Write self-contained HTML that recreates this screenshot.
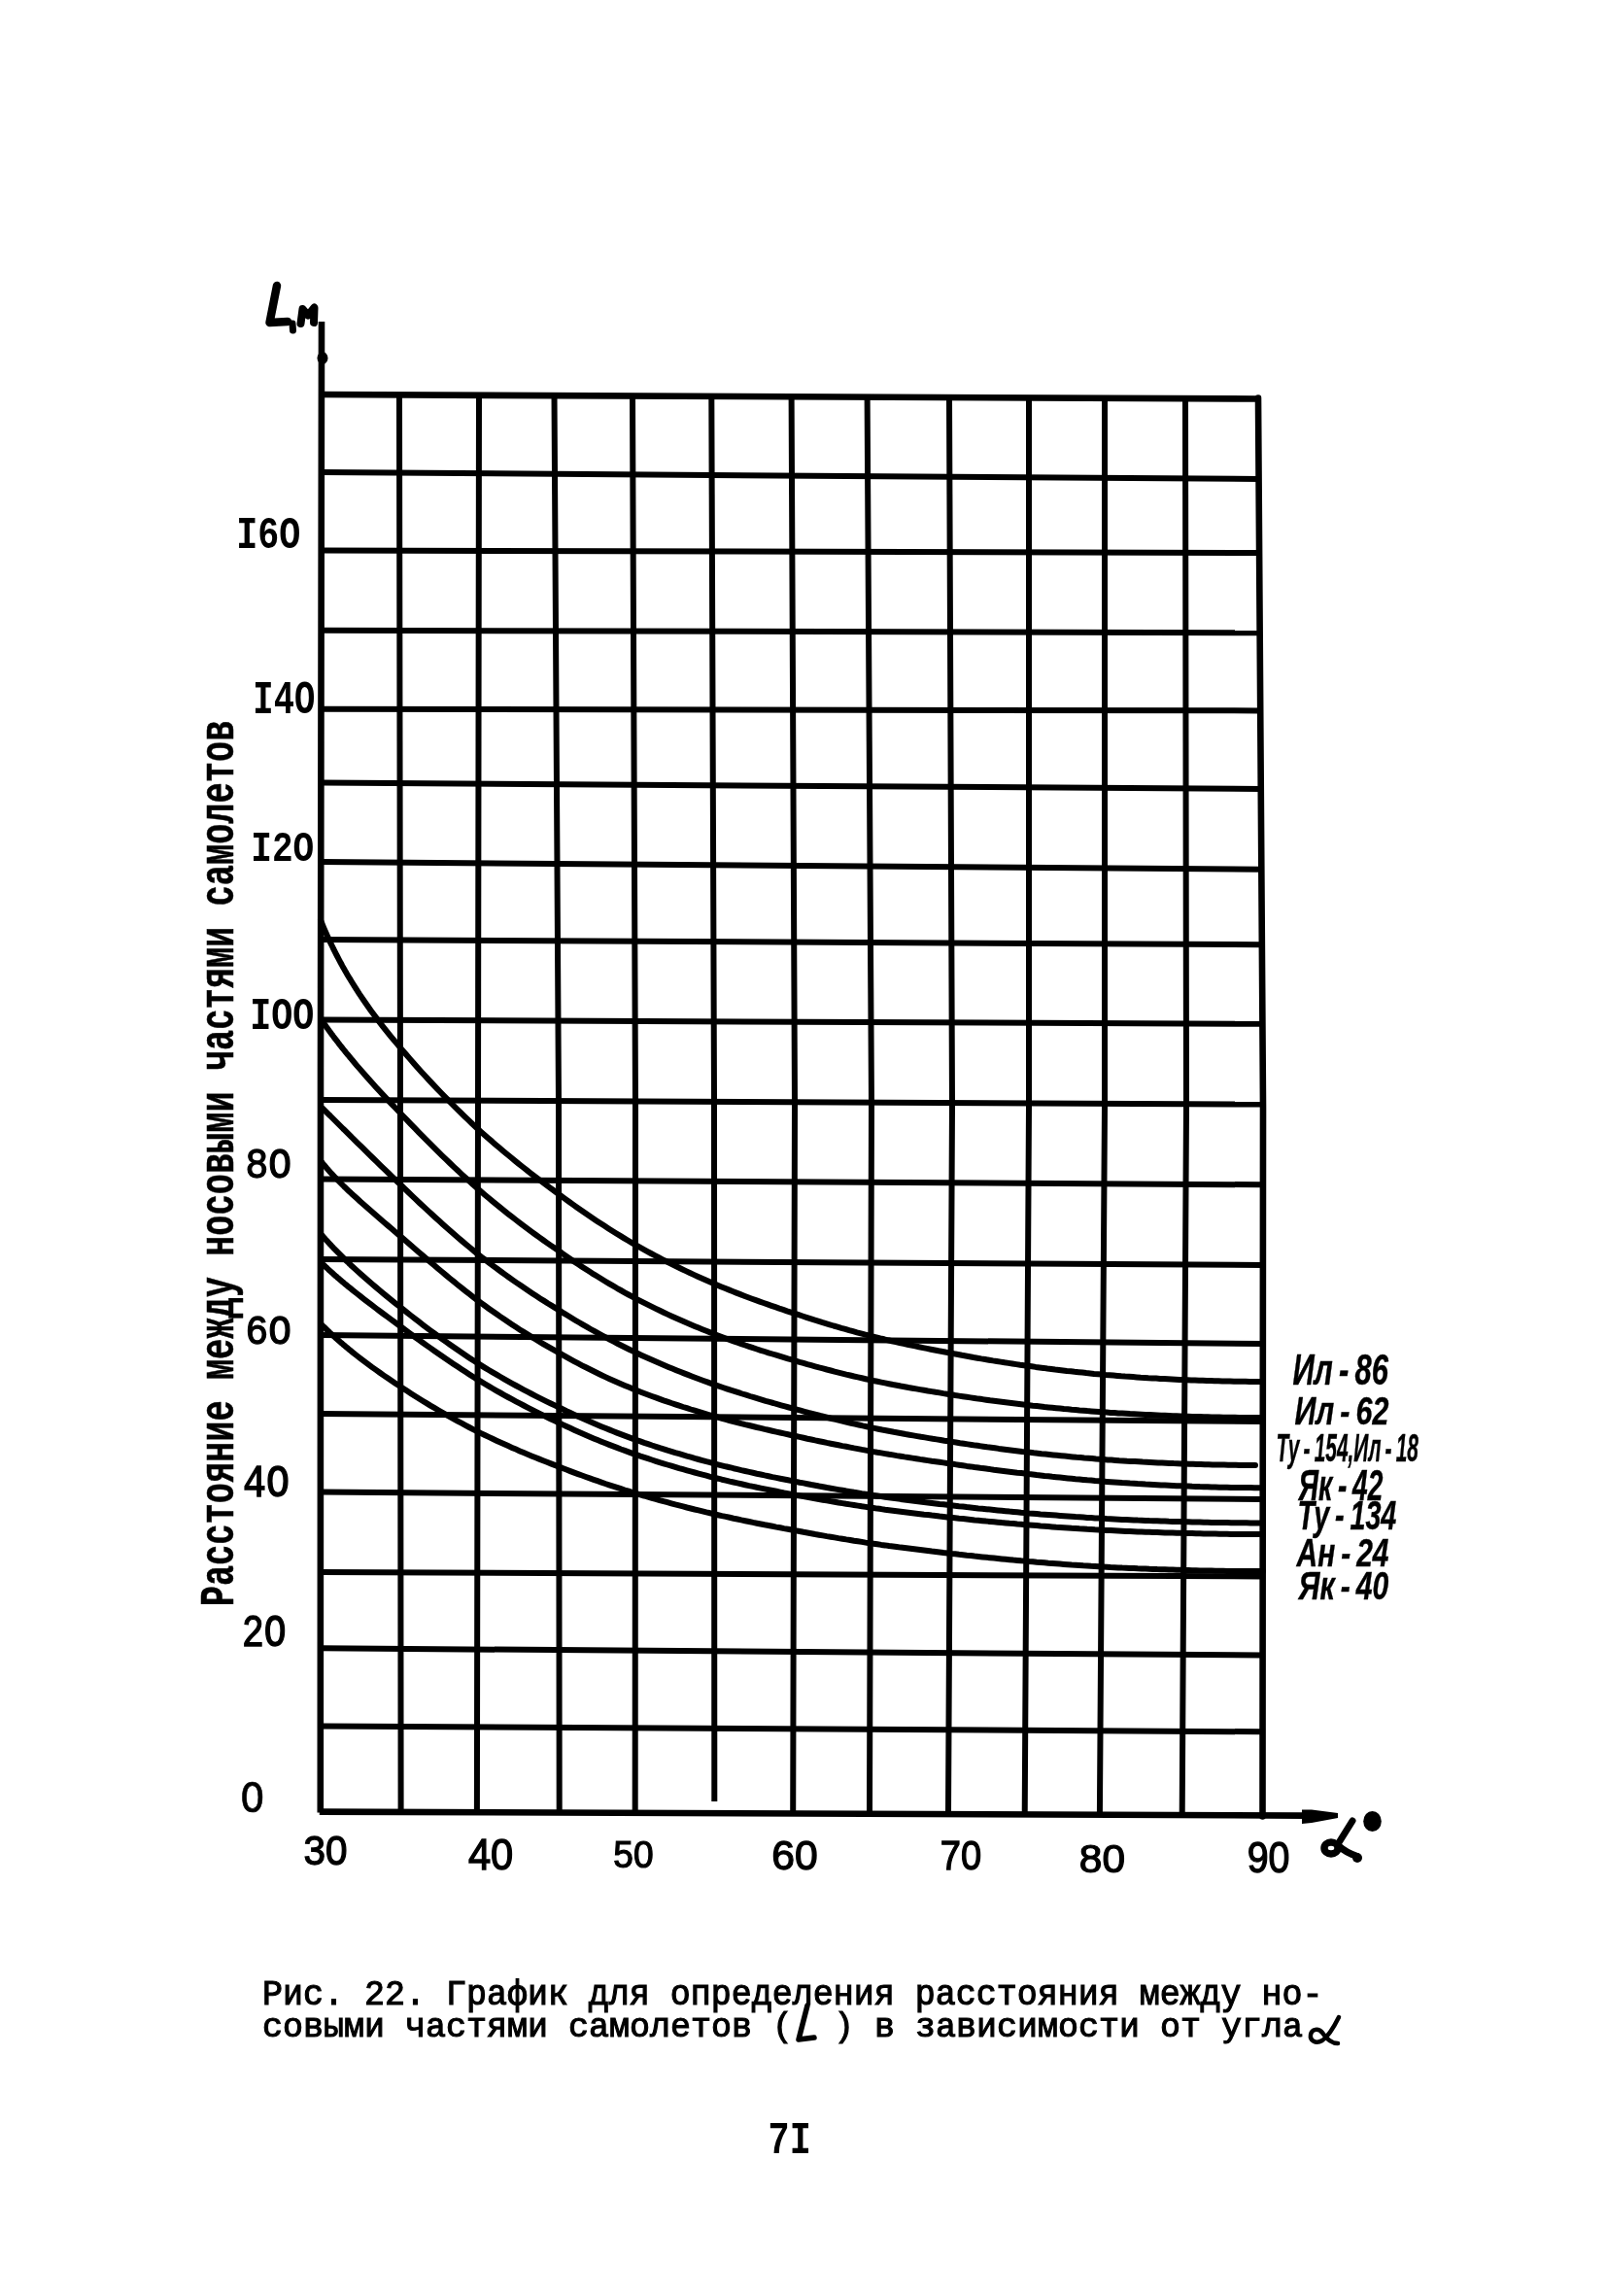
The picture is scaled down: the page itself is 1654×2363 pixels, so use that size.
<!DOCTYPE html>
<html><head><meta charset="utf-8"><title>Рис. 22</title>
<style>
html,body{margin:0;padding:0;background:#fff;}
body{width:1654px;height:2363px;overflow:hidden;font-family:"Liberation Mono",monospace;}
svg{display:block;filter:grayscale(1);}
</style></head>
<body>
<svg width="1654" height="2363" viewBox="0 0 1654 2363">
<rect width="1654" height="2363" fill="#fff"/>
<g fill="none" stroke="#000" stroke-linecap="round" stroke-linejoin="round">
<line x1="330.0" y1="406.0" x2="1296.0" y2="410.5" stroke-width="6.6" stroke-linecap="butt"/>
<line x1="330.9" y1="486.0" x2="1295.6" y2="493.0" stroke-width="6.0" stroke-linecap="butt"/>
<line x1="330.8" y1="566.4" x2="1296.1" y2="569.0" stroke-width="6.0" stroke-linecap="butt"/>
<line x1="330.7" y1="648.7" x2="1296.7" y2="651.3" stroke-width="6.0" stroke-linecap="butt"/>
<line x1="330.6" y1="729.8" x2="1297.2" y2="731.4" stroke-width="6.0" stroke-linecap="butt"/>
<line x1="330.5" y1="805.5" x2="1297.8" y2="812.0" stroke-width="6.0" stroke-linecap="butt"/>
<line x1="330.3" y1="887.0" x2="1298.4" y2="894.7" stroke-width="6.0" stroke-linecap="butt"/>
<line x1="330.2" y1="967.0" x2="1298.9" y2="972.2" stroke-width="6.0" stroke-linecap="butt"/>
<line x1="330.1" y1="1049.5" x2="1299.4" y2="1053.8" stroke-width="6.0" stroke-linecap="butt"/>
<line x1="330.0" y1="1132.0" x2="1300.0" y2="1136.6" stroke-width="6.0" stroke-linecap="butt"/>
<line x1="330.0" y1="1213.5" x2="1299.9" y2="1219.3" stroke-width="6.0" stroke-linecap="butt"/>
<line x1="330.0" y1="1296.0" x2="1299.9" y2="1302.0" stroke-width="6.0" stroke-linecap="butt"/>
<line x1="329.9" y1="1374.0" x2="1299.8" y2="1383.0" stroke-width="6.0" stroke-linecap="butt"/>
<line x1="329.9" y1="1455.0" x2="1299.8" y2="1463.0" stroke-width="6.0" stroke-linecap="butt"/>
<line x1="329.9" y1="1535.5" x2="1299.7" y2="1543.0" stroke-width="6.0" stroke-linecap="butt"/>
<line x1="329.9" y1="1618.0" x2="1299.7" y2="1622.5" stroke-width="6.0" stroke-linecap="butt"/>
<line x1="329.8" y1="1696.3" x2="1299.6" y2="1703.5" stroke-width="6.0" stroke-linecap="butt"/>
<line x1="329.8" y1="1776.4" x2="1299.6" y2="1782.3" stroke-width="6.0" stroke-linecap="butt"/>
<line x1="328.8" y1="1864.6" x2="1345.0" y2="1868.6" stroke-width="6.6" stroke-linecap="butt"/>
<polyline points="331.0,331.0 330.0,1098.3 329.8,1865.6" stroke-width="6.6" stroke-linecap="butt"/>
<polyline points="411.0,405.4 412.0,1135.6 412.6,1865.9" stroke-width="6.0" stroke-linecap="butt"/>
<polyline points="493.0,405.8 492.0,1136.0 490.9,1866.2" stroke-width="6.0" stroke-linecap="butt"/>
<polyline points="570.5,406.1 575.0,1136.3 575.7,1866.6" stroke-width="6.0" stroke-linecap="butt"/>
<polyline points="651.0,406.5 654.0,1136.7 653.7,1866.9" stroke-width="6.0" stroke-linecap="butt"/>
<polyline points="732.3,406.9 735.0,1130.4 735.3,1854.0" stroke-width="6.0" stroke-linecap="butt"/>
<polyline points="814.6,407.2 818.0,1137.4 816.2,1867.5" stroke-width="6.0" stroke-linecap="butt"/>
<polyline points="892.6,407.6 897.0,1137.7 895.0,1867.8" stroke-width="6.0" stroke-linecap="butt"/>
<polyline points="977.0,408.0 980.0,1138.1 976.0,1868.1" stroke-width="6.0" stroke-linecap="butt"/>
<polyline points="1059.0,408.4 1059.0,1138.4 1054.7,1868.4" stroke-width="6.0" stroke-linecap="butt"/>
<polyline points="1137.0,408.7 1137.0,1138.7 1131.9,1868.7" stroke-width="6.0" stroke-linecap="butt"/>
<polyline points="1220.0,409.1 1221.0,1139.1 1216.7,1869.1" stroke-width="6.0" stroke-linecap="butt"/>
<polyline points="1295.0,409.5 1300.0,1139.4 1299.5,1869.4" stroke-width="6.6" stroke-linecap="round"/>
<path d="M330.0 947.1 L331.0 949.5 L332.0 951.9 L333.0 954.3 L334.0 956.6 L335.0 958.9 L336.0 961.2 L337.0 963.4 L338.0 965.6 L339.0 967.7 L340.0 969.9 L341.0 972.0 L342.0 974.0 L343.0 976.1 L344.0 978.1 L345.0 980.1 L346.0 982.1 L347.0 984.0 L348.0 985.9 L349.0 987.8 L350.0 989.7 L351.0 991.5 L352.0 993.4 L353.0 995.2 L354.0 996.9 L355.0 998.7 L356.0 1000.4 L357.0 1002.2 L358.0 1003.9 L359.0 1005.6 L360.0 1007.2 L362.0 1010.5 L366.0 1016.9 L370.0 1023.1 L374.0 1029.0 L378.0 1034.8 L382.0 1040.4 L386.0 1045.8 L390.0 1051.1 L394.0 1056.3 L398.0 1061.3 L402.0 1066.3 L406.0 1071.1 L410.0 1075.9 L414.0 1080.6 L418.0 1085.3 L422.0 1089.9 L426.0 1094.5 L430.0 1099.0 L434.0 1103.4 L438.0 1107.8 L442.0 1112.1 L446.0 1116.4 L450.0 1120.6 L454.0 1124.8 L458.0 1128.9 L462.0 1132.9 L466.0 1137.0 L470.0 1141.0 L474.0 1144.9 L478.0 1148.8 L482.0 1152.6 L486.0 1156.5 L490.0 1160.2 L494.0 1163.9 L498.0 1167.4 L502.0 1171.0 L506.0 1174.4 L510.0 1177.9 L514.0 1181.3 L518.0 1184.7 L522.0 1188.0 L526.0 1191.3 L530.0 1194.6 L534.0 1197.8 L538.0 1201.0 L542.0 1204.2 L546.0 1207.3 L550.0 1210.4 L554.0 1213.4 L558.0 1216.4 L562.0 1219.4 L566.0 1222.4 L570.0 1225.3 L574.0 1228.2 L578.0 1231.1 L582.0 1234.1 L586.0 1237.0 L590.0 1239.9 L594.0 1242.7 L598.0 1245.5 L602.0 1248.3 L606.0 1251.0 L610.0 1253.7 L614.0 1256.4 L618.0 1259.0 L622.0 1261.6 L626.0 1264.2 L630.0 1266.7 L634.0 1269.2 L638.0 1271.6 L642.0 1274.1 L646.0 1276.5 L650.0 1278.8 L654.0 1281.2 L658.0 1283.4 L662.0 1285.6 L666.0 1287.8 L670.0 1290.0 L674.0 1292.1 L678.0 1294.2 L682.0 1296.3 L686.0 1298.3 L690.0 1300.3 L694.0 1302.3 L698.0 1304.3 L702.0 1306.2 L706.0 1308.1 L710.0 1310.0 L714.0 1311.9 L718.0 1313.7 L722.0 1315.5 L726.0 1317.3 L730.0 1319.1 L734.0 1320.8 L738.0 1322.5 L742.0 1324.2 L746.0 1325.8 L750.0 1327.4 L754.0 1329.0 L758.0 1330.6 L762.0 1332.1 L766.0 1333.7 L770.0 1335.2 L774.0 1336.7 L778.0 1338.1 L782.0 1339.6 L786.0 1341.0 L790.0 1342.4 L794.0 1343.8 L798.0 1345.2 L802.0 1346.6 L806.0 1347.9 L810.0 1349.3 L814.0 1350.6 L818.0 1351.9 L822.0 1353.2 L826.0 1354.5 L830.0 1355.8 L834.0 1357.1 L838.0 1358.4 L842.0 1359.6 L846.0 1360.9 L850.0 1362.1 L854.0 1363.3 L858.0 1364.5 L862.0 1365.6 L866.0 1366.8 L870.0 1367.9 L874.0 1369.1 L878.0 1370.2 L882.0 1371.3 L886.0 1372.3 L890.0 1373.4 L894.0 1374.4 L898.0 1375.5 L902.0 1376.4 L906.0 1377.4 L910.0 1378.3 L914.0 1379.3 L918.0 1380.2 L922.0 1381.1 L926.0 1382.0 L930.0 1382.9 L934.0 1383.7 L938.0 1384.6 L942.0 1385.4 L946.0 1386.3 L950.0 1387.1 L954.0 1387.9 L958.0 1388.7 L962.0 1389.5 L966.0 1390.3 L970.0 1391.0 L974.0 1391.8 L978.0 1392.5 L982.0 1393.3 L986.0 1394.0 L990.0 1394.8 L994.0 1395.5 L998.0 1396.2 L1002.0 1397.0 L1006.0 1397.7 L1010.0 1398.4 L1014.0 1399.0 L1018.0 1399.7 L1022.0 1400.4 L1026.0 1401.0 L1030.0 1401.6 L1034.0 1402.3 L1038.0 1402.9 L1042.0 1403.5 L1046.0 1404.1 L1050.0 1404.7 L1054.0 1405.2 L1058.0 1405.8 L1062.0 1406.3 L1066.0 1406.9 L1070.0 1407.4 L1074.0 1407.9 L1078.0 1408.5 L1082.0 1409.0 L1086.0 1409.5 L1090.0 1409.9 L1094.0 1410.4 L1098.0 1410.9 L1102.0 1411.3 L1106.0 1411.8 L1110.0 1412.2 L1114.0 1412.6 L1118.0 1413.1 L1122.0 1413.5 L1126.0 1413.9 L1130.0 1414.2 L1134.0 1414.6 L1138.0 1415.0 L1142.0 1415.3 L1146.0 1415.6 L1150.0 1415.9 L1154.0 1416.3 L1158.0 1416.6 L1162.0 1416.8 L1166.0 1417.1 L1170.0 1417.4 L1174.0 1417.7 L1178.0 1417.9 L1182.0 1418.2 L1186.0 1418.4 L1190.0 1418.6 L1194.0 1418.9 L1198.0 1419.1 L1202.0 1419.3 L1206.0 1419.5 L1210.0 1419.7 L1214.0 1419.9 L1218.0 1420.0 L1222.0 1420.2 L1226.0 1420.4 L1230.0 1420.5 L1234.0 1420.7 L1238.0 1420.8 L1242.0 1421.0 L1246.0 1421.1 L1250.0 1421.2 L1254.0 1421.3 L1258.0 1421.4 L1262.0 1421.5 L1266.0 1421.6 L1270.0 1421.7 L1274.0 1421.7 L1278.0 1421.8 L1282.0 1421.8 L1286.0 1421.9 L1290.0 1421.9 L1294.0 1421.9 L1298.0 1421.9 L1300.0 1421.9" stroke-width="6.0"/>
<path d="M331.0 1049.7 L332.0 1051.2 L333.0 1052.7 L334.0 1054.1 L335.0 1055.5 L336.0 1056.9 L337.0 1058.3 L338.0 1059.7 L339.0 1061.1 L340.0 1062.4 L341.0 1063.8 L342.0 1065.1 L343.0 1066.5 L344.0 1067.8 L345.0 1069.1 L346.0 1070.4 L347.0 1071.7 L348.0 1073.0 L349.0 1074.3 L350.0 1075.6 L351.0 1076.8 L352.0 1078.1 L353.0 1079.4 L354.0 1080.6 L355.0 1081.8 L356.0 1083.1 L357.0 1084.3 L358.0 1085.5 L359.0 1086.7 L360.0 1088.0 L361.0 1089.2 L363.0 1091.5 L367.0 1096.3 L371.0 1100.9 L375.0 1105.5 L379.0 1110.0 L383.0 1114.5 L387.0 1118.9 L391.0 1123.3 L395.0 1127.6 L399.0 1131.9 L403.0 1136.1 L407.0 1140.3 L411.0 1144.5 L415.0 1148.7 L419.0 1152.9 L423.0 1157.1 L427.0 1161.2 L431.0 1165.3 L435.0 1169.4 L439.0 1173.4 L443.0 1177.4 L447.0 1181.4 L451.0 1185.4 L455.0 1189.3 L459.0 1193.1 L463.0 1197.0 L467.0 1200.8 L471.0 1204.5 L475.0 1208.3 L479.0 1212.0 L483.0 1215.6 L487.0 1219.3 L491.0 1222.8 L495.0 1226.3 L499.0 1229.7 L503.0 1233.0 L507.0 1236.4 L511.0 1239.6 L515.0 1242.9 L519.0 1246.1 L523.0 1249.3 L527.0 1252.4 L531.0 1255.5 L535.0 1258.6 L539.0 1261.6 L543.0 1264.6 L547.0 1267.6 L551.0 1270.5 L555.0 1273.4 L559.0 1276.3 L563.0 1279.1 L567.0 1281.9 L571.0 1284.6 L575.0 1287.3 L579.0 1290.2 L583.0 1292.9 L587.0 1295.7 L591.0 1298.4 L595.0 1301.0 L599.0 1303.7 L603.0 1306.3 L607.0 1308.8 L611.0 1311.4 L615.0 1313.8 L619.0 1316.3 L623.0 1318.7 L627.0 1321.1 L631.0 1323.4 L635.0 1325.8 L639.0 1328.0 L643.0 1330.3 L647.0 1332.5 L651.0 1334.7 L655.0 1336.8 L659.0 1338.9 L663.0 1340.9 L667.0 1342.9 L671.0 1344.9 L675.0 1346.9 L679.0 1348.8 L683.0 1350.7 L687.0 1352.6 L691.0 1354.4 L695.0 1356.2 L699.0 1358.0 L703.0 1359.8 L707.0 1361.5 L711.0 1363.2 L715.0 1364.9 L719.0 1366.6 L723.0 1368.2 L727.0 1369.8 L731.0 1371.4 L735.0 1373.0 L739.0 1374.5 L743.0 1376.0 L747.0 1377.5 L751.0 1378.9 L755.0 1380.3 L759.0 1381.7 L763.0 1383.1 L767.0 1384.5 L771.0 1385.8 L775.0 1387.2 L779.0 1388.5 L783.0 1389.8 L787.0 1391.0 L791.0 1392.3 L795.0 1393.5 L799.0 1394.7 L803.0 1395.9 L807.0 1397.1 L811.0 1398.3 L815.0 1399.4 L819.0 1400.6 L823.0 1401.8 L827.0 1402.9 L831.0 1404.1 L835.0 1405.2 L839.0 1406.3 L843.0 1407.4 L847.0 1408.4 L851.0 1409.5 L855.0 1410.5 L859.0 1411.6 L863.0 1412.6 L867.0 1413.6 L871.0 1414.6 L875.0 1415.5 L879.0 1416.5 L883.0 1417.4 L887.0 1418.3 L891.0 1419.2 L895.0 1420.1 L899.0 1421.0 L903.0 1421.8 L907.0 1422.6 L911.0 1423.4 L915.0 1424.2 L919.0 1425.0 L923.0 1425.7 L927.0 1426.5 L931.0 1427.2 L935.0 1428.0 L939.0 1428.7 L943.0 1429.4 L947.0 1430.1 L951.0 1430.8 L955.0 1431.5 L959.0 1432.1 L963.0 1432.8 L967.0 1433.4 L971.0 1434.1 L975.0 1434.7 L979.0 1435.3 L983.0 1436.0 L987.0 1436.6 L991.0 1437.2 L995.0 1437.8 L999.0 1438.4 L1003.0 1439.0 L1007.0 1439.6 L1011.0 1440.1 L1015.0 1440.7 L1019.0 1441.3 L1023.0 1441.8 L1027.0 1442.3 L1031.0 1442.8 L1035.0 1443.3 L1039.0 1443.8 L1043.0 1444.3 L1047.0 1444.8 L1051.0 1445.3 L1055.0 1445.8 L1059.0 1446.2 L1063.0 1446.7 L1067.0 1447.1 L1071.0 1447.5 L1075.0 1448.0 L1079.0 1448.4 L1083.0 1448.8 L1087.0 1449.2 L1091.0 1449.6 L1095.0 1450.0 L1099.0 1450.3 L1103.0 1450.7 L1107.0 1451.0 L1111.0 1451.4 L1115.0 1451.7 L1119.0 1452.1 L1123.0 1452.4 L1127.0 1452.7 L1131.0 1453.0 L1135.0 1453.3 L1139.0 1453.6 L1143.0 1453.9 L1147.0 1454.1 L1151.0 1454.4 L1155.0 1454.6 L1159.0 1454.8 L1163.0 1455.1 L1167.0 1455.3 L1171.0 1455.5 L1175.0 1455.7 L1179.0 1455.9 L1183.0 1456.1 L1187.0 1456.3 L1191.0 1456.5 L1195.0 1456.7 L1199.0 1456.8 L1203.0 1457.0 L1207.0 1457.2 L1211.0 1457.3 L1215.0 1457.4 L1219.0 1457.6 L1223.0 1457.7 L1227.0 1457.9 L1231.0 1458.0 L1235.0 1458.1 L1239.0 1458.2 L1243.0 1458.3 L1247.0 1458.4 L1251.0 1458.5 L1255.0 1458.6 L1259.0 1458.7 L1263.0 1458.7 L1267.0 1458.8 L1271.0 1458.8 L1275.0 1458.9 L1279.0 1458.9 L1283.0 1459.0 L1287.0 1459.0 L1291.0 1459.0 L1295.0 1459.0 L1299.0 1459.0 L1300.0 1459.0" stroke-width="6.0"/>
<path d="M332.0 1140.6 L333.0 1141.6 L334.0 1142.6 L335.0 1143.6 L336.0 1144.6 L337.0 1145.6 L338.0 1146.6 L339.0 1147.6 L340.0 1148.5 L341.0 1149.5 L342.0 1150.5 L343.0 1151.5 L344.0 1152.5 L345.0 1153.5 L346.0 1154.5 L347.0 1155.5 L348.0 1156.5 L349.0 1157.5 L350.0 1158.5 L351.0 1159.5 L352.0 1160.5 L353.0 1161.5 L354.0 1162.4 L355.0 1163.4 L356.0 1164.4 L357.0 1165.4 L358.0 1166.4 L359.0 1167.4 L360.0 1168.4 L361.0 1169.4 L362.0 1170.4 L364.0 1172.3 L368.0 1176.3 L372.0 1180.2 L376.0 1184.2 L380.0 1188.1 L384.0 1192.0 L388.0 1195.9 L392.0 1199.8 L396.0 1203.7 L400.0 1207.5 L404.0 1211.4 L408.0 1215.2 L412.0 1219.0 L416.0 1222.9 L420.0 1226.7 L424.0 1230.6 L428.0 1234.4 L432.0 1238.2 L436.0 1241.9 L440.0 1245.6 L444.0 1249.3 L448.0 1253.0 L452.0 1256.6 L456.0 1260.2 L460.0 1263.7 L464.0 1267.2 L468.0 1270.7 L472.0 1274.2 L476.0 1277.6 L480.0 1281.0 L484.0 1284.3 L488.0 1287.6 L492.0 1290.9 L496.0 1294.0 L500.0 1297.0 L504.0 1300.1 L508.0 1303.1 L512.0 1306.0 L516.0 1309.0 L520.0 1311.9 L524.0 1314.7 L528.0 1317.6 L532.0 1320.4 L536.0 1323.1 L540.0 1325.8 L544.0 1328.5 L548.0 1331.2 L552.0 1333.8 L556.0 1336.4 L560.0 1338.9 L564.0 1341.5 L568.0 1343.9 L572.0 1346.4 L576.0 1348.8 L580.0 1351.4 L584.0 1353.8 L588.0 1356.3 L592.0 1358.7 L596.0 1361.0 L600.0 1363.4 L604.0 1365.7 L608.0 1368.0 L612.0 1370.2 L616.0 1372.4 L620.0 1374.6 L624.0 1376.7 L628.0 1378.9 L632.0 1380.9 L636.0 1383.0 L640.0 1385.0 L644.0 1387.0 L648.0 1389.0 L652.0 1390.9 L656.0 1392.8 L660.0 1394.7 L664.0 1396.5 L668.0 1398.3 L672.0 1400.1 L676.0 1401.8 L680.0 1403.5 L684.0 1405.2 L688.0 1406.9 L692.0 1408.5 L696.0 1410.2 L700.0 1411.8 L704.0 1413.4 L708.0 1414.9 L712.0 1416.5 L716.0 1418.0 L720.0 1419.5 L724.0 1421.0 L728.0 1422.4 L732.0 1423.9 L736.0 1425.3 L740.0 1426.7 L744.0 1428.0 L748.0 1429.3 L752.0 1430.7 L756.0 1431.9 L760.0 1433.2 L764.0 1434.5 L768.0 1435.7 L772.0 1437.0 L776.0 1438.2 L780.0 1439.4 L784.0 1440.6 L788.0 1441.8 L792.0 1442.9 L796.0 1444.0 L800.0 1445.2 L804.0 1446.3 L808.0 1447.4 L812.0 1448.5 L816.0 1449.5 L820.0 1450.6 L824.0 1451.7 L828.0 1452.8 L832.0 1453.9 L836.0 1454.9 L840.0 1455.9 L844.0 1457.0 L848.0 1458.0 L852.0 1459.0 L856.0 1460.0 L860.0 1460.9 L864.0 1461.9 L868.0 1462.8 L872.0 1463.8 L876.0 1464.7 L880.0 1465.6 L884.0 1466.5 L888.0 1467.4 L892.0 1468.2 L896.0 1469.1 L900.0 1469.9 L904.0 1470.7 L908.0 1471.5 L912.0 1472.2 L916.0 1473.0 L920.0 1473.8 L924.0 1474.5 L928.0 1475.2 L932.0 1476.0 L936.0 1476.7 L940.0 1477.4 L944.0 1478.1 L948.0 1478.8 L952.0 1479.4 L956.0 1480.1 L960.0 1480.8 L964.0 1481.4 L968.0 1482.0 L972.0 1482.7 L976.0 1483.3 L980.0 1483.9 L984.0 1484.5 L988.0 1485.2 L992.0 1485.8 L996.0 1486.4 L1000.0 1487.0 L1004.0 1487.6 L1008.0 1488.1 L1012.0 1488.7 L1016.0 1489.3 L1020.0 1489.8 L1024.0 1490.3 L1028.0 1490.9 L1032.0 1491.4 L1036.0 1491.9 L1040.0 1492.4 L1044.0 1492.9 L1048.0 1493.4 L1052.0 1493.9 L1056.0 1494.3 L1060.0 1494.8 L1064.0 1495.3 L1068.0 1495.7 L1072.0 1496.2 L1076.0 1496.6 L1080.0 1497.0 L1084.0 1497.4 L1088.0 1497.8 L1092.0 1498.2 L1096.0 1498.6 L1100.0 1499.0 L1104.0 1499.4 L1108.0 1499.8 L1112.0 1500.1 L1116.0 1500.5 L1120.0 1500.8 L1124.0 1501.1 L1128.0 1501.5 L1132.0 1501.8 L1136.0 1502.1 L1140.0 1502.4 L1144.0 1502.6 L1148.0 1502.9 L1152.0 1503.2 L1156.0 1503.4 L1160.0 1503.7 L1164.0 1503.9 L1168.0 1504.1 L1172.0 1504.3 L1176.0 1504.6 L1180.0 1504.8 L1184.0 1505.0 L1188.0 1505.2 L1192.0 1505.4 L1196.0 1505.5 L1200.0 1505.7 L1204.0 1505.9 L1208.0 1506.1 L1212.0 1506.2 L1216.0 1506.4 L1220.0 1506.5 L1224.0 1506.7 L1228.0 1506.8 L1232.0 1506.9 L1236.0 1507.0 L1240.0 1507.2 L1244.0 1507.3 L1248.0 1507.4 L1252.0 1507.5 L1256.0 1507.5 L1260.0 1507.6 L1264.0 1507.7 L1268.0 1507.8 L1272.0 1507.8 L1276.0 1507.9 L1280.0 1507.9 L1284.0 1507.9 L1288.0 1508.0 L1292.0 1508.0" stroke-width="6.0"/>
<path d="M331.0 1195.8 L332.0 1197.1 L333.0 1198.3 L334.0 1199.5 L335.0 1200.7 L336.0 1201.9 L337.0 1203.1 L338.0 1204.2 L339.0 1205.3 L340.0 1206.5 L341.0 1207.6 L342.0 1208.7 L343.0 1209.7 L344.0 1210.8 L345.0 1211.9 L346.0 1212.9 L347.0 1214.0 L348.0 1215.0 L349.0 1216.0 L350.0 1217.0 L351.0 1218.0 L352.0 1219.0 L353.0 1220.0 L354.0 1221.0 L355.0 1221.9 L356.0 1222.9 L357.0 1223.9 L358.0 1224.8 L359.0 1225.8 L360.0 1226.7 L361.0 1227.6 L363.0 1229.5 L367.0 1233.1 L371.0 1236.8 L375.0 1240.3 L379.0 1243.8 L383.0 1247.3 L387.0 1250.8 L391.0 1254.3 L395.0 1257.7 L399.0 1261.1 L403.0 1264.6 L407.0 1268.0 L411.0 1271.4 L415.0 1274.8 L419.0 1278.3 L423.0 1281.8 L427.0 1285.2 L431.0 1288.7 L435.0 1292.1 L439.0 1295.5 L443.0 1298.9 L447.0 1302.3 L451.0 1305.7 L455.0 1309.0 L459.0 1312.4 L463.0 1315.7 L467.0 1318.9 L471.0 1322.2 L475.0 1325.4 L479.0 1328.6 L483.0 1331.7 L487.0 1334.8 L491.0 1337.9 L495.0 1340.9 L499.0 1343.8 L503.0 1346.7 L507.0 1349.5 L511.0 1352.3 L515.0 1355.1 L519.0 1357.8 L523.0 1360.5 L527.0 1363.2 L531.0 1365.8 L535.0 1368.4 L539.0 1370.9 L543.0 1373.4 L547.0 1375.9 L551.0 1378.3 L555.0 1380.7 L559.0 1383.1 L563.0 1385.4 L567.0 1387.7 L571.0 1389.9 L575.0 1392.2 L579.0 1394.4 L583.0 1396.7 L587.0 1398.9 L591.0 1401.1 L595.0 1403.2 L599.0 1405.3 L603.0 1407.3 L607.0 1409.3 L611.0 1411.3 L615.0 1413.3 L619.0 1415.2 L623.0 1417.1 L627.0 1418.9 L631.0 1420.7 L635.0 1422.5 L639.0 1424.2 L643.0 1425.9 L647.0 1427.6 L651.0 1429.3 L655.0 1430.9 L659.0 1432.5 L663.0 1434.0 L667.0 1435.5 L671.0 1437.0 L675.0 1438.4 L679.0 1439.9 L683.0 1441.3 L687.0 1442.6 L691.0 1444.0 L695.0 1445.3 L699.0 1446.7 L703.0 1448.0 L707.0 1449.2 L711.0 1450.5 L715.0 1451.7 L719.0 1452.9 L723.0 1454.1 L727.0 1455.3 L731.0 1456.5 L735.0 1457.6 L739.0 1458.7 L743.0 1459.8 L747.0 1460.9 L751.0 1462.0 L755.0 1463.0 L759.0 1464.0 L763.0 1465.1 L767.0 1466.1 L771.0 1467.0 L775.0 1468.0 L779.0 1469.0 L783.0 1469.9 L787.0 1470.9 L791.0 1471.8 L795.0 1472.7 L799.0 1473.6 L803.0 1474.5 L807.0 1475.4 L811.0 1476.3 L815.0 1477.2 L819.0 1478.0 L823.0 1478.9 L827.0 1479.8 L831.0 1480.7 L835.0 1481.5 L839.0 1482.4 L843.0 1483.2 L847.0 1484.0 L851.0 1484.9 L855.0 1485.7 L859.0 1486.5 L863.0 1487.3 L867.0 1488.1 L871.0 1488.8 L875.0 1489.6 L879.0 1490.4 L883.0 1491.1 L887.0 1491.9 L891.0 1492.6 L895.0 1493.4 L899.0 1494.1 L903.0 1494.8 L907.0 1495.4 L911.0 1496.1 L915.0 1496.8 L919.0 1497.4 L923.0 1498.1 L927.0 1498.7 L931.0 1499.4 L935.0 1500.0 L939.0 1500.6 L943.0 1501.2 L947.0 1501.9 L951.0 1502.5 L955.0 1503.1 L959.0 1503.7 L963.0 1504.2 L967.0 1504.8 L971.0 1505.4 L975.0 1506.0 L979.0 1506.6 L983.0 1507.1 L987.0 1507.7 L991.0 1508.3 L995.0 1508.9 L999.0 1509.4 L1003.0 1510.0 L1007.0 1510.5 L1011.0 1511.1 L1015.0 1511.6 L1019.0 1512.1 L1023.0 1512.7 L1027.0 1513.2 L1031.0 1513.7 L1035.0 1514.2 L1039.0 1514.7 L1043.0 1515.2 L1047.0 1515.7 L1051.0 1516.1 L1055.0 1516.6 L1059.0 1517.1 L1063.0 1517.5 L1067.0 1518.0 L1071.0 1518.4 L1075.0 1518.9 L1079.0 1519.3 L1083.0 1519.8 L1087.0 1520.2 L1091.0 1520.6 L1095.0 1521.0 L1099.0 1521.4 L1103.0 1521.8 L1107.0 1522.2 L1111.0 1522.5 L1115.0 1522.9 L1119.0 1523.3 L1123.0 1523.6 L1127.0 1524.0 L1131.0 1524.3 L1135.0 1524.6 L1139.0 1524.9 L1143.0 1525.2 L1147.0 1525.5 L1151.0 1525.8 L1155.0 1526.1 L1159.0 1526.3 L1163.0 1526.6 L1167.0 1526.8 L1171.0 1527.1 L1175.0 1527.3 L1179.0 1527.6 L1183.0 1527.8 L1187.0 1528.0 L1191.0 1528.2 L1195.0 1528.4 L1199.0 1528.6 L1203.0 1528.8 L1207.0 1529.0 L1211.0 1529.2 L1215.0 1529.3 L1219.0 1529.5 L1223.0 1529.6 L1227.0 1529.8 L1231.0 1529.9 L1235.0 1530.1 L1239.0 1530.2 L1243.0 1530.3 L1247.0 1530.5 L1251.0 1530.6 L1255.0 1530.7 L1259.0 1530.7 L1263.0 1530.8 L1267.0 1530.9 L1271.0 1531.0 L1275.0 1531.0 L1279.0 1531.1 L1283.0 1531.1 L1287.0 1531.1 L1291.0 1531.2 L1295.0 1531.2 L1299.0 1531.2 L1300.0 1531.2" stroke-width="6.0"/>
<path d="M331.0 1270.8 L332.0 1272.0 L333.0 1273.1 L334.0 1274.3 L335.0 1275.4 L336.0 1276.5 L337.0 1277.6 L338.0 1278.7 L339.0 1279.8 L340.0 1280.9 L341.0 1281.9 L342.0 1283.0 L343.0 1284.1 L344.0 1285.1 L345.0 1286.1 L346.0 1287.2 L347.0 1288.2 L348.0 1289.2 L349.0 1290.2 L350.0 1291.2 L351.0 1292.2 L352.0 1293.2 L353.0 1294.2 L354.0 1295.2 L355.0 1296.1 L356.0 1297.1 L357.0 1298.1 L358.0 1299.0 L359.0 1300.0 L360.0 1300.9 L361.0 1301.9 L363.0 1303.7 L367.0 1307.4 L371.0 1311.0 L375.0 1314.6 L379.0 1318.1 L383.0 1321.5 L387.0 1324.9 L391.0 1328.3 L395.0 1331.6 L399.0 1334.9 L403.0 1338.1 L407.0 1341.3 L411.0 1344.5 L415.0 1347.7 L419.0 1350.9 L423.0 1354.0 L427.0 1357.1 L431.0 1360.2 L435.0 1363.3 L439.0 1366.3 L443.0 1369.3 L447.0 1372.2 L451.0 1375.2 L455.0 1378.1 L459.0 1380.9 L463.0 1383.7 L467.0 1386.5 L471.0 1389.3 L475.0 1392.0 L479.0 1394.7 L483.0 1397.4 L487.0 1400.0 L491.0 1402.6 L495.0 1405.1 L499.0 1407.6 L503.0 1410.0 L507.0 1412.4 L511.0 1414.7 L515.0 1417.0 L519.0 1419.3 L523.0 1421.6 L527.0 1423.8 L531.0 1426.0 L535.0 1428.2 L539.0 1430.3 L543.0 1432.4 L547.0 1434.5 L551.0 1436.6 L555.0 1438.6 L559.0 1440.6 L563.0 1442.6 L567.0 1444.5 L571.0 1446.4 L575.0 1448.3 L579.0 1450.2 L583.0 1452.2 L587.0 1454.0 L591.0 1455.9 L595.0 1457.7 L599.0 1459.5 L603.0 1461.3 L607.0 1463.1 L611.0 1464.8 L615.0 1466.5 L619.0 1468.2 L623.0 1469.8 L627.0 1471.4 L631.0 1473.0 L635.0 1474.6 L639.0 1476.1 L643.0 1477.6 L647.0 1479.1 L651.0 1480.6 L655.0 1482.0 L659.0 1483.4 L663.0 1484.8 L667.0 1486.1 L671.0 1487.5 L675.0 1488.8 L679.0 1490.1 L683.0 1491.3 L687.0 1492.6 L691.0 1493.8 L695.0 1495.1 L699.0 1496.2 L703.0 1497.4 L707.0 1498.6 L711.0 1499.7 L715.0 1500.9 L719.0 1502.0 L723.0 1503.1 L727.0 1504.2 L731.0 1505.2 L735.0 1506.3 L739.0 1507.3 L743.0 1508.3 L747.0 1509.3 L751.0 1510.2 L755.0 1511.2 L759.0 1512.1 L763.0 1513.1 L767.0 1514.0 L771.0 1514.9 L775.0 1515.8 L779.0 1516.7 L783.0 1517.5 L787.0 1518.4 L791.0 1519.2 L795.0 1520.1 L799.0 1520.9 L803.0 1521.7 L807.0 1522.5 L811.0 1523.3 L815.0 1524.1 L819.0 1524.9 L823.0 1525.7 L827.0 1526.4 L831.0 1527.2 L835.0 1528.0 L839.0 1528.7 L843.0 1529.5 L847.0 1530.2 L851.0 1531.0 L855.0 1531.7 L859.0 1532.4 L863.0 1533.1 L867.0 1533.8 L871.0 1534.5 L875.0 1535.1 L879.0 1535.8 L883.0 1536.4 L887.0 1537.1 L891.0 1537.7 L895.0 1538.3 L899.0 1538.9 L903.0 1539.5 L907.0 1540.1 L911.0 1540.7 L915.0 1541.2 L919.0 1541.8 L923.0 1542.3 L927.0 1542.9 L931.0 1543.4 L935.0 1543.9 L939.0 1544.4 L943.0 1544.9 L947.0 1545.4 L951.0 1545.9 L955.0 1546.4 L959.0 1546.9 L963.0 1547.4 L967.0 1547.9 L971.0 1548.3 L975.0 1548.8 L979.0 1549.2 L983.0 1549.7 L987.0 1550.2 L991.0 1550.6 L995.0 1551.1 L999.0 1551.5 L1003.0 1551.9 L1007.0 1552.4 L1011.0 1552.8 L1015.0 1553.2 L1019.0 1553.6 L1023.0 1554.0 L1027.0 1554.4 L1031.0 1554.8 L1035.0 1555.2 L1039.0 1555.6 L1043.0 1555.9 L1047.0 1556.3 L1051.0 1556.7 L1055.0 1557.0 L1059.0 1557.4 L1063.0 1557.7 L1067.0 1558.0 L1071.0 1558.4 L1075.0 1558.7 L1079.0 1559.0 L1083.0 1559.3 L1087.0 1559.6 L1091.0 1559.9 L1095.0 1560.2 L1099.0 1560.5 L1103.0 1560.8 L1107.0 1561.1 L1111.0 1561.3 L1115.0 1561.6 L1119.0 1561.9 L1123.0 1562.1 L1127.0 1562.4 L1131.0 1562.6 L1135.0 1562.8 L1139.0 1563.1 L1143.0 1563.3 L1147.0 1563.5 L1151.0 1563.7 L1155.0 1563.9 L1159.0 1564.0 L1163.0 1564.2 L1167.0 1564.4 L1171.0 1564.6 L1175.0 1564.7 L1179.0 1564.9 L1183.0 1565.1 L1187.0 1565.2 L1191.0 1565.3 L1195.0 1565.5 L1199.0 1565.6 L1203.0 1565.8 L1207.0 1565.9 L1211.0 1566.0 L1215.0 1566.1 L1219.0 1566.2 L1223.0 1566.3 L1227.0 1566.4 L1231.0 1566.5 L1235.0 1566.6 L1239.0 1566.7 L1243.0 1566.8 L1247.0 1566.9 L1251.0 1567.0 L1255.0 1567.0 L1259.0 1567.1 L1263.0 1567.1 L1267.0 1567.2 L1271.0 1567.2 L1275.0 1567.3 L1279.0 1567.3 L1283.0 1567.3 L1287.0 1567.4 L1291.0 1567.4 L1295.0 1567.4 L1299.0 1567.4 L1300.0 1567.4" stroke-width="6.0"/>
<path d="M331.0 1299.8 L332.0 1300.8 L333.0 1301.8 L334.0 1302.7 L335.0 1303.7 L336.0 1304.6 L337.0 1305.5 L338.0 1306.5 L339.0 1307.4 L340.0 1308.3 L341.0 1309.2 L342.0 1310.1 L343.0 1311.0 L344.0 1311.9 L345.0 1312.8 L346.0 1313.6 L347.0 1314.5 L348.0 1315.4 L349.0 1316.2 L350.0 1317.1 L351.0 1317.9 L352.0 1318.8 L353.0 1319.6 L354.0 1320.5 L355.0 1321.3 L356.0 1322.1 L357.0 1322.9 L358.0 1323.8 L359.0 1324.6 L360.0 1325.4 L361.0 1326.2 L363.0 1327.8 L367.0 1331.0 L371.0 1334.2 L375.0 1337.3 L379.0 1340.4 L383.0 1343.4 L387.0 1346.5 L391.0 1349.5 L395.0 1352.5 L399.0 1355.4 L403.0 1358.4 L407.0 1361.3 L411.0 1364.2 L415.0 1367.2 L419.0 1370.1 L423.0 1373.1 L427.0 1376.0 L431.0 1378.9 L435.0 1381.7 L439.0 1384.6 L443.0 1387.4 L447.0 1390.2 L451.0 1393.0 L455.0 1395.8 L459.0 1398.5 L463.0 1401.2 L467.0 1403.9 L471.0 1406.6 L475.0 1409.2 L479.0 1411.8 L483.0 1414.4 L487.0 1417.0 L491.0 1419.5 L495.0 1421.9 L499.0 1424.3 L503.0 1426.6 L507.0 1429.0 L511.0 1431.3 L515.0 1433.5 L519.0 1435.8 L523.0 1438.0 L527.0 1440.2 L531.0 1442.3 L535.0 1444.4 L539.0 1446.5 L543.0 1448.6 L547.0 1450.7 L551.0 1452.7 L555.0 1454.7 L559.0 1456.6 L563.0 1458.5 L567.0 1460.5 L571.0 1462.3 L575.0 1464.2 L579.0 1466.1 L583.0 1468.0 L587.0 1469.8 L591.0 1471.7 L595.0 1473.5 L599.0 1475.2 L603.0 1477.0 L607.0 1478.7 L611.0 1480.4 L615.0 1482.0 L619.0 1483.7 L623.0 1485.3 L627.0 1486.9 L631.0 1488.4 L635.0 1489.9 L639.0 1491.5 L643.0 1492.9 L647.0 1494.4 L651.0 1495.8 L655.0 1497.2 L659.0 1498.6 L663.0 1499.9 L667.0 1501.2 L671.0 1502.5 L675.0 1503.8 L679.0 1505.1 L683.0 1506.3 L687.0 1507.5 L691.0 1508.7 L695.0 1509.9 L699.0 1511.1 L703.0 1512.2 L707.0 1513.3 L711.0 1514.4 L715.0 1515.5 L719.0 1516.6 L723.0 1517.7 L727.0 1518.7 L731.0 1519.8 L735.0 1520.8 L739.0 1521.7 L743.0 1522.7 L747.0 1523.6 L751.0 1524.6 L755.0 1525.5 L759.0 1526.4 L763.0 1527.3 L767.0 1528.2 L771.0 1529.1 L775.0 1529.9 L779.0 1530.8 L783.0 1531.6 L787.0 1532.4 L791.0 1533.2 L795.0 1534.0 L799.0 1534.8 L803.0 1535.6 L807.0 1536.4 L811.0 1537.1 L815.0 1537.9 L819.0 1538.6 L823.0 1539.4 L827.0 1540.1 L831.0 1540.9 L835.0 1541.6 L839.0 1542.3 L843.0 1543.0 L847.0 1543.7 L851.0 1544.4 L855.0 1545.1 L859.0 1545.8 L863.0 1546.5 L867.0 1547.1 L871.0 1547.8 L875.0 1548.4 L879.0 1549.0 L883.0 1549.6 L887.0 1550.3 L891.0 1550.9 L895.0 1551.5 L899.0 1552.0 L903.0 1552.6 L907.0 1553.1 L911.0 1553.7 L915.0 1554.2 L919.0 1554.7 L923.0 1555.2 L927.0 1555.7 L931.0 1556.2 L935.0 1556.7 L939.0 1557.2 L943.0 1557.7 L947.0 1558.2 L951.0 1558.7 L955.0 1559.1 L959.0 1559.6 L963.0 1560.0 L967.0 1560.5 L971.0 1560.9 L975.0 1561.4 L979.0 1561.8 L983.0 1562.2 L987.0 1562.7 L991.0 1563.1 L995.0 1563.5 L999.0 1563.9 L1003.0 1564.4 L1007.0 1564.8 L1011.0 1565.2 L1015.0 1565.6 L1019.0 1565.9 L1023.0 1566.3 L1027.0 1566.7 L1031.0 1567.1 L1035.0 1567.4 L1039.0 1567.8 L1043.0 1568.1 L1047.0 1568.5 L1051.0 1568.8 L1055.0 1569.2 L1059.0 1569.5 L1063.0 1569.8 L1067.0 1570.1 L1071.0 1570.5 L1075.0 1570.8 L1079.0 1571.1 L1083.0 1571.4 L1087.0 1571.7 L1091.0 1571.9 L1095.0 1572.2 L1099.0 1572.5 L1103.0 1572.8 L1107.0 1573.0 L1111.0 1573.3 L1115.0 1573.5 L1119.0 1573.8 L1123.0 1574.0 L1127.0 1574.3 L1131.0 1574.5 L1135.0 1574.7 L1139.0 1574.9 L1143.0 1575.1 L1147.0 1575.3 L1151.0 1575.5 L1155.0 1575.7 L1159.0 1575.9 L1163.0 1576.0 L1167.0 1576.2 L1171.0 1576.4 L1175.0 1576.5 L1179.0 1576.7 L1183.0 1576.8 L1187.0 1577.0 L1191.0 1577.1 L1195.0 1577.2 L1199.0 1577.4 L1203.0 1577.5 L1207.0 1577.6 L1211.0 1577.7 L1215.0 1577.8 L1219.0 1577.9 L1223.0 1578.0 L1227.0 1578.1 L1231.0 1578.2 L1235.0 1578.3 L1239.0 1578.4 L1243.0 1578.5 L1247.0 1578.6 L1251.0 1578.6 L1255.0 1578.7 L1259.0 1578.8 L1263.0 1578.8 L1267.0 1578.9 L1271.0 1578.9 L1275.0 1578.9 L1279.0 1579.0 L1283.0 1579.0 L1287.0 1579.0 L1291.0 1579.0 L1295.0 1579.0 L1299.0 1579.0 L1300.0 1579.0" stroke-width="6.0"/>
<path d="M331.0 1363.3 L332.0 1364.3 L333.0 1365.3 L334.0 1366.2 L335.0 1367.2 L336.0 1368.2 L337.0 1369.1 L338.0 1370.1 L339.0 1371.0 L340.0 1372.0 L341.0 1372.9 L342.0 1373.8 L343.0 1374.7 L344.0 1375.6 L345.0 1376.5 L346.0 1377.4 L347.0 1378.3 L348.0 1379.2 L349.0 1380.1 L350.0 1381.0 L351.0 1381.8 L352.0 1382.7 L353.0 1383.5 L354.0 1384.4 L355.0 1385.2 L356.0 1386.1 L357.0 1386.9 L358.0 1387.7 L359.0 1388.6 L360.0 1389.4 L361.0 1390.2 L363.0 1391.8 L367.0 1395.0 L371.0 1398.1 L375.0 1401.1 L379.0 1404.1 L383.0 1407.1 L387.0 1409.9 L391.0 1412.8 L395.0 1415.6 L399.0 1418.3 L403.0 1421.0 L407.0 1423.7 L411.0 1426.3 L415.0 1429.0 L419.0 1431.6 L423.0 1434.2 L427.0 1436.7 L431.0 1439.2 L435.0 1441.7 L439.0 1444.1 L443.0 1446.6 L447.0 1448.9 L451.0 1451.3 L455.0 1453.6 L459.0 1455.9 L463.0 1458.1 L467.0 1460.4 L471.0 1462.6 L475.0 1464.7 L479.0 1466.9 L483.0 1469.0 L487.0 1471.1 L491.0 1473.1 L495.0 1475.1 L499.0 1477.0 L503.0 1478.9 L507.0 1480.8 L511.0 1482.7 L515.0 1484.5 L519.0 1486.3 L523.0 1488.1 L527.0 1489.9 L531.0 1491.6 L535.0 1493.4 L539.0 1495.1 L543.0 1496.7 L547.0 1498.4 L551.0 1500.0 L555.0 1501.6 L559.0 1503.2 L563.0 1504.8 L567.0 1506.4 L571.0 1507.9 L575.0 1509.4 L579.0 1511.0 L583.0 1512.5 L587.0 1514.1 L591.0 1515.6 L595.0 1517.1 L599.0 1518.5 L603.0 1520.0 L607.0 1521.4 L611.0 1522.8 L615.0 1524.2 L619.0 1525.6 L623.0 1527.0 L627.0 1528.3 L631.0 1529.6 L635.0 1530.9 L639.0 1532.2 L643.0 1533.5 L647.0 1534.7 L651.0 1536.0 L655.0 1537.2 L659.0 1538.4 L663.0 1539.5 L667.0 1540.7 L671.0 1541.8 L675.0 1542.9 L679.0 1544.1 L683.0 1545.2 L687.0 1546.2 L691.0 1547.3 L695.0 1548.4 L699.0 1549.4 L703.0 1550.4 L707.0 1551.5 L711.0 1552.5 L715.0 1553.5 L719.0 1554.4 L723.0 1555.4 L727.0 1556.4 L731.0 1557.3 L735.0 1558.3 L739.0 1559.2 L743.0 1560.1 L747.0 1560.9 L751.0 1561.8 L755.0 1562.7 L759.0 1563.5 L763.0 1564.4 L767.0 1565.2 L771.0 1566.0 L775.0 1566.9 L779.0 1567.7 L783.0 1568.5 L787.0 1569.3 L791.0 1570.0 L795.0 1570.8 L799.0 1571.6 L803.0 1572.3 L807.0 1573.1 L811.0 1573.8 L815.0 1574.5 L819.0 1575.3 L823.0 1576.0 L827.0 1576.8 L831.0 1577.5 L835.0 1578.2 L839.0 1579.0 L843.0 1579.7 L847.0 1580.4 L851.0 1581.1 L855.0 1581.7 L859.0 1582.4 L863.0 1583.1 L867.0 1583.7 L871.0 1584.4 L875.0 1585.0 L879.0 1585.7 L883.0 1586.3 L887.0 1586.9 L891.0 1587.6 L895.0 1588.2 L899.0 1588.7 L903.0 1589.3 L907.0 1589.9 L911.0 1590.4 L915.0 1591.0 L919.0 1591.5 L923.0 1592.0 L927.0 1592.6 L931.0 1593.1 L935.0 1593.6 L939.0 1594.1 L943.0 1594.6 L947.0 1595.1 L951.0 1595.6 L955.0 1596.1 L959.0 1596.6 L963.0 1597.0 L967.0 1597.5 L971.0 1598.0 L975.0 1598.4 L979.0 1598.9 L983.0 1599.3 L987.0 1599.8 L991.0 1600.2 L995.0 1600.7 L999.0 1601.1 L1003.0 1601.6 L1007.0 1602.0 L1011.0 1602.4 L1015.0 1602.8 L1019.0 1603.2 L1023.0 1603.6 L1027.0 1604.0 L1031.0 1604.4 L1035.0 1604.8 L1039.0 1605.2 L1043.0 1605.6 L1047.0 1605.9 L1051.0 1606.3 L1055.0 1606.6 L1059.0 1607.0 L1063.0 1607.3 L1067.0 1607.7 L1071.0 1608.0 L1075.0 1608.3 L1079.0 1608.7 L1083.0 1609.0 L1087.0 1609.3 L1091.0 1609.6 L1095.0 1609.9 L1099.0 1610.2 L1103.0 1610.5 L1107.0 1610.7 L1111.0 1611.0 L1115.0 1611.3 L1119.0 1611.5 L1123.0 1611.8 L1127.0 1612.0 L1131.0 1612.3 L1135.0 1612.5 L1139.0 1612.7 L1143.0 1613.0 L1147.0 1613.2 L1151.0 1613.4 L1155.0 1613.6 L1159.0 1613.7 L1163.0 1613.9 L1167.0 1614.1 L1171.0 1614.3 L1175.0 1614.4 L1179.0 1614.6 L1183.0 1614.8 L1187.0 1614.9 L1191.0 1615.1 L1195.0 1615.2 L1199.0 1615.3 L1203.0 1615.5 L1207.0 1615.6 L1211.0 1615.7 L1215.0 1615.8 L1219.0 1616.0 L1223.0 1616.1 L1227.0 1616.2 L1231.0 1616.3 L1235.0 1616.4 L1239.0 1616.5 L1243.0 1616.6 L1247.0 1616.6 L1251.0 1616.7 L1255.0 1616.8 L1259.0 1616.8 L1263.0 1616.9 L1267.0 1616.9 L1271.0 1617.0 L1275.0 1617.0 L1279.0 1617.1 L1283.0 1617.1 L1287.0 1617.1 L1291.0 1617.1 L1295.0 1617.1 L1299.0 1617.1 L1300.0 1617.1" stroke-width="6.0"/>
<ellipse cx="332" cy="368.5" rx="5.5" ry="6.5" fill="#000" stroke="none"/>
<path d="M1340 1862.5 L1350 1862.5 L1377 1866 L1377 1871 L1350 1876 L1340 1877 Z" fill="#000" stroke="none"/>
<path d="M285 294 L277.5 332 L296 331" stroke-width="8.5"/>
<path d="M301 333 L301.5 340" stroke-width="7"/>
<path d="M309.5 333 L311.5 318 L317 324.5 L323.5 316.5 L323 332" stroke-width="8"/>
<ellipse cx="1370" cy="1902" rx="7" ry="6" stroke-width="7.5"/>
<path d="M1377 1898 L1392 1874" stroke-width="7"/>
<path d="M1378 1900 Q1386 1907 1396 1910" stroke-width="7"/>
<circle cx="1397" cy="1912" r="5" fill="#000" stroke="none"/>
<ellipse cx="1412.5" cy="1874.5" rx="9.3" ry="10.5" fill="#000" stroke="none"/>
<path d="M831 2064 L822 2099 L838 2097" stroke-width="5.5"/>
<path d="M1378 2076 C1373 2086 1367 2096 1361 2100 C1354 2104 1348 2100 1349 2094 C1350 2088 1357 2087 1361 2092 C1365 2098 1370 2103 1377 2103" stroke-width="4.5"/>
</g>
<g fill="#000">
<text font-family="Liberation Mono" font-weight="bold" font-style="normal" font-size="100" transform="matrix(0.3669 0 0 0.4706 243.25 563.53)">I6O</text>
<text font-family="Liberation Mono" font-weight="bold" font-style="normal" font-size="100" transform="matrix(0.3550 0 0 0.4853 260.34 733.51)">I4O</text>
<text font-family="Liberation Mono" font-weight="bold" font-style="normal" font-size="100" transform="matrix(0.3609 0 0 0.4412 258.29 885.56)">I2O</text>
<text font-family="Liberation Mono" font-weight="bold" font-style="normal" font-size="100" transform="matrix(0.3669 0 0 0.4706 257.25 1058.53)">IOO</text>
<text font-family="Liberation Mono" font-weight="normal" font-style="normal" font-size="100" transform="matrix(0.3963 0 0 0.4412 252.42 1211.56)" stroke="#000" stroke-width="3">8O</text>
<text font-family="Liberation Mono" font-weight="normal" font-style="normal" font-size="100" transform="matrix(0.3953 0 0 0.4265 252.53 1382.57)" stroke="#000" stroke-width="3">6O</text>
<text font-family="Liberation Mono" font-weight="normal" font-style="normal" font-size="100" transform="matrix(0.4000 0 0 0.4559 250.00 1539.54)" stroke="#000" stroke-width="3">4O</text>
<text font-family="Liberation Mono" font-weight="normal" font-style="normal" font-size="100" transform="matrix(0.3806 0 0 0.4559 248.94 1693.54)" stroke="#000" stroke-width="3">2O</text>
<text font-family="Liberation Mono" font-weight="normal" font-style="normal" font-size="100" transform="matrix(0.4080 0 0 0.4559 247.56 1864.54)" stroke="#000" stroke-width="1.5">O</text>
<text font-family="Liberation Sans" font-weight="normal" font-style="normal" font-size="100" transform="matrix(0.4049 0 0 0.4225 312.38 1918.58)" stroke="#000" stroke-width="3">30</text>
<text font-family="Liberation Sans" font-weight="normal" font-style="normal" font-size="100" transform="matrix(0.4163 0 0 0.4423 481.96 1923.56)" stroke="#000" stroke-width="3">40</text>
<text font-family="Liberation Sans" font-weight="normal" font-style="normal" font-size="100" transform="matrix(0.3709 0 0 0.3930 631.32 1921.91)" stroke="#000" stroke-width="3">50</text>
<text font-family="Liberation Sans" font-weight="normal" font-style="normal" font-size="100" transform="matrix(0.4265 0 0 0.4169 794.37 1923.58)" stroke="#000" stroke-width="3">60</text>
<text font-family="Liberation Sans" font-weight="normal" font-style="normal" font-size="100" transform="matrix(0.3814 0 0 0.4169 967.69 1923.58)" stroke="#000" stroke-width="3">70</text>
<text font-family="Liberation Sans" font-weight="normal" font-style="normal" font-size="100" transform="matrix(0.4244 0 0 0.4141 1110.79 1926.59)" stroke="#000" stroke-width="3">80</text>
<text font-family="Liberation Sans" font-weight="normal" font-style="normal" font-size="100" transform="matrix(0.3941 0 0 0.4366 1283.63 1926.56)" stroke="#000" stroke-width="3">90</text>
<text font-family="Liberation Sans" font-weight="bold" font-style="italic" font-size="100" transform="matrix(0.3091 0 0 0.4507 1330.38 1424.55)" stroke="#000" stroke-width="1">Ил - 86</text>
<text font-family="Liberation Sans" font-weight="bold" font-style="italic" font-size="100" transform="matrix(0.3043 0 0 0.4085 1332.39 1465.59)" stroke="#000" stroke-width="1">Ил - 62</text>
<text font-family="Liberation Sans" font-weight="bold" font-style="italic" font-size="100" transform="matrix(0.2089 0 0 0.4033 1313.54 1503.73)" stroke="#000" stroke-width="1">Ту - 154,Ил - 18</text>
<text font-family="Liberation Sans" font-weight="bold" font-style="italic" font-size="100" transform="matrix(0.2816 0 0 0.4500 1336.56 1543.50)" stroke="#000" stroke-width="1">Як - 42</text>
<text font-family="Liberation Sans" font-weight="bold" font-style="italic" font-size="100" transform="matrix(0.2876 0 0 0.4199 1335.49 1574.39)" stroke="#000" stroke-width="1">Ту - 134</text>
<text font-family="Liberation Sans" font-weight="bold" font-style="italic" font-size="100" transform="matrix(0.2992 0 0 0.4143 1334.60 1612.00)" stroke="#000" stroke-width="1">Ан - 24</text>
<text font-family="Liberation Sans" font-weight="bold" font-style="italic" font-size="100" transform="matrix(0.3010 0 0 0.4099 1336.60 1646.19)" stroke="#000" stroke-width="1">Як - 40</text>
<text stroke="#000" stroke-width="1" font-family="Liberation Mono" font-weight="bold" font-style="normal" font-size="100" transform="matrix(0 -0.3534 0.4924 0 240.00 1653.30)">Расстояние между носовыми частями самолетов</text>
<text font-family="Liberation Mono" font-weight="normal" font-size="35.00" transform="matrix(1 0 0 1.080 270.00 2062.50)" stroke="#000" stroke-width="1.1" xml:space="preserve">Рис. 22. График для определения расстояния между но-</text>
<text font-family="Liberation Mono" font-weight="normal" font-size="35.00" transform="matrix(1 0 0 1.020 270.00 2096.00)" stroke="#000" stroke-width="1.1" xml:space="preserve">совыми частями самолетов (  ) в зависимости от угла</text>
<text font-family="Liberation Mono" font-weight="bold" font-style="normal" font-size="100" transform="matrix(0.3679 0 0 0.4545 790.61 2216.00)">7I</text>
</g>
</svg>
</body></html>
